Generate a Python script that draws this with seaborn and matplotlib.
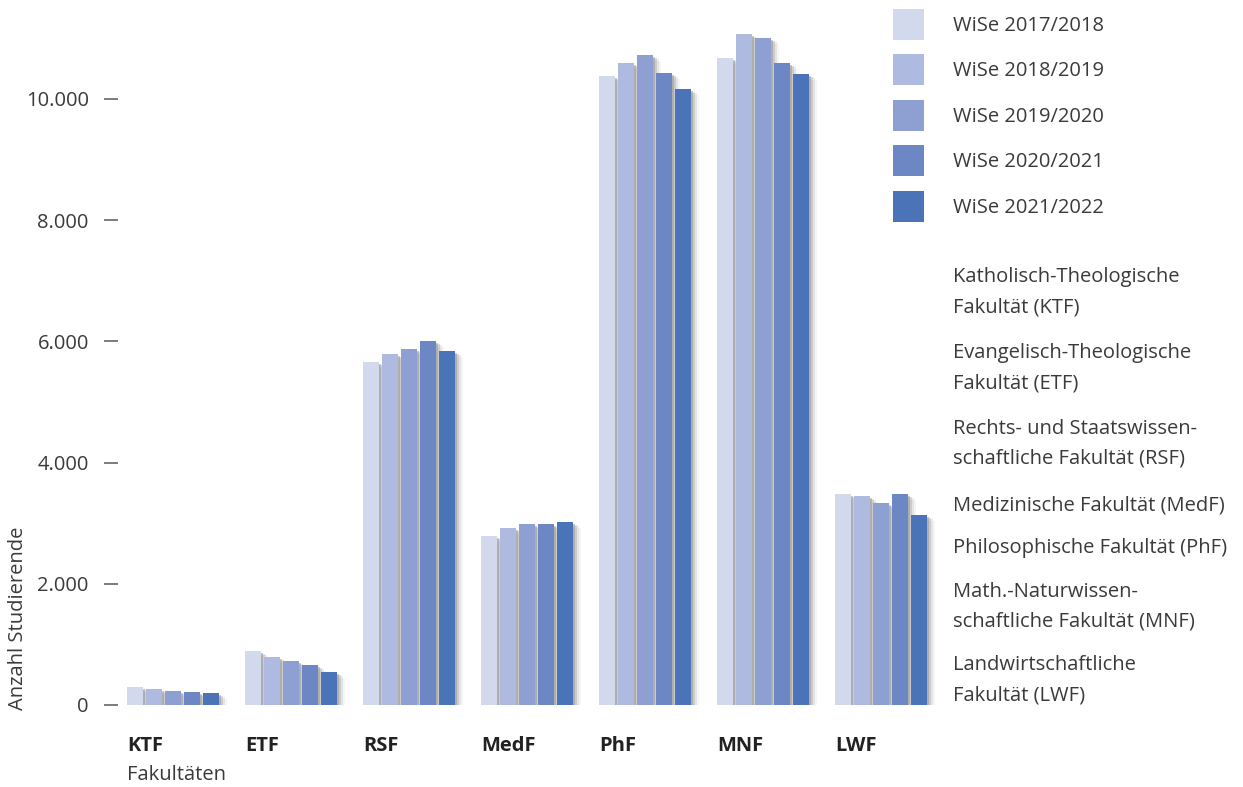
import matplotlib
matplotlib.use("Agg")
import matplotlib.pyplot as plt
import matplotlib.patheffects as pe
from matplotlib.patches import Patch
import seaborn as sns
import pandas as pd

# ---------------- data ----------------
faculties = ["KTF", "ETF", "RSF", "MedF", "PhF", "MNF", "LWF"]
semesters = ["WiSe 2017/2018", "WiSe 2018/2019", "WiSe 2019/2020",
             "WiSe 2020/2021", "WiSe 2021/2022"]
wise_2017 = [292, 886, 5655, 2784, 10375, 10672, 3477]
wise_2018 = [259, 787, 5787, 2916, 10589, 11068, 3444]
wise_2019 = [226, 721, 5870, 2982, 10721, 11002, 3328]
wise_2020 = [210, 655, 6002, 2982, 10424, 10589, 3477]
wise_2021 = [193, 540, 5837, 3015, 10160, 10408, 3130]
colors = ["#D3D9EC", "#AEBADF", "#8EA0D1", "#6D87C4", "#4A73B8"]
y_ticks = [0, 2000, 4000, 6000, 8000, 10000]
y_tick_labels = ["0", "2.000", "4.000", "6.000", "8.000", "10.000"]
faculty_names = [
    "Katholisch-Theologische\nFakultät (KTF)",
    "Evangelisch-Theologische\nFakultät (ETF)",
    "Rechts- und Staatswissen-\nschaftliche Fakultät (RSF)",
    "Medizinische Fakultät (MedF)",
    "Philosophische Fakultät (PhF)",
    "Math.-Naturwissen-\nschaftliche Fakultät (MNF)",
    "Landwirtschaftliche\nFakultät (LWF)",
]
y_label = "Anzahl Studierende"
x_label = "Fakultäten"

series = [wise_2017, wise_2018, wise_2019, wise_2020, wise_2021]
rows = []
for sem, vals in zip(semesters, series):
    for fac, v in zip(faculties, vals):
        rows.append({"Fakultät": fac, "Semester": sem, "Anzahl": v})
df = pd.DataFrame(rows)

# ---------------- figure ----------------
sns.set_theme(style="white")
plt.rcParams["font.family"] = ["Open Sans", "DejaVu Sans"]
TXT = "#3a3a3a"

W, H = 1243, 787
fig = plt.figure(figsize=(W / 100, H / 100), dpi=100)

ax_left, ax_right = 118, 940
ax_bottom, ax_top = 705, 8
ax = fig.add_axes([ax_left / W, (H - ax_bottom) / H,
                   (ax_right - ax_left) / W, (ax_bottom - ax_top) / H])

sns.barplot(data=df, x="Fakultät", y="Anzahl", hue="Semester",
            order=faculties, hue_order=semesters, palette=colors,
            saturation=1, width=0.805, gap=0.158, linewidth=0,
            legend=False, ax=ax)

shadow = [pe.SimplePatchShadow(offset=(1.5, -1.0), shadow_rgbFace="#8c8c8c", alpha=0.45),
          pe.SimplePatchShadow(offset=(3.0, -2.0), shadow_rgbFace="#8c8c8c", alpha=0.28),
          pe.SimplePatchShadow(offset=(4.5, -3.0), shadow_rgbFace="#8c8c8c", alpha=0.16),
          pe.SimplePatchShadow(offset=(6.0, -4.0), shadow_rgbFace="#8c8c8c", alpha=0.08),
          pe.Normal()]
for p in ax.patches:
    p.set_path_effects(shadow)

x0 = -(173 - ax_left) / 118.0
ax.set_xlim(x0, x0 + (ax_right - ax_left) / 118.0)
ax.set_ylim(0, (ax_bottom - ax_top) / 0.0606)

for s in ax.spines.values():
    s.set_visible(False)

ax.set_yticks(y_ticks)
ax.set_yticklabels(y_tick_labels)
ax.tick_params(axis="y", direction="out", length=10, width=1.1, color="#595959",
               pad=11, labelsize=14.5, labelcolor=TXT, left=True)

group_start = [i - 0.39 for i in range(len(faculties))]
ax.set_xticks(group_start)
ax.set_xticklabels(faculties, ha="left", fontweight="bold")
ax.tick_params(axis="x", length=0, pad=22, labelsize=14.5, labelcolor="#222222")
ax.set_xlabel("")
ax.set_ylabel("")

fig.text(127 / W, 1 - 780 / H, x_label, ha="left", va="baseline",
         fontsize=14.5, color=TXT)
fig.text(18 / W, 1 - 710 / H, y_label, rotation=90, ha="center", va="bottom",
         fontsize=14.5, color=TXT)

handles = [Patch(facecolor=c, edgecolor="none") for c in colors]
fig.legend(handles, semesters, loc="upper left",
           bbox_to_anchor=(893 / W, 1 - 9 / H), frameon=False,
           fontsize=14.5, labelcolor=TXT, handlelength=1.55, handleheight=1.99,
           handletextpad=1.45, labelspacing=0.72, borderpad=0, borderaxespad=0)

first_baselines = [282, 358, 434, 511, 553, 597, 670]
line_pitch = 30
for name, yb in zip(faculty_names, first_baselines):
    for k, line in enumerate(name.split("\n")):
        fig.text(953 / W, 1 - (yb + k * line_pitch) / H, line, ha="left",
                 va="baseline", fontsize=14.5, color=TXT)

fig.savefig("out.png", dpi=100)
